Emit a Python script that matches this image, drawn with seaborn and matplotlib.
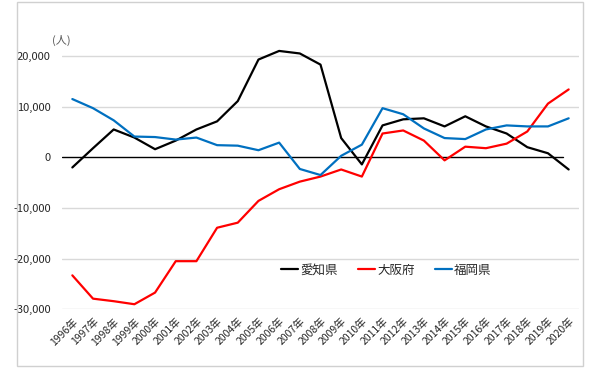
import pandas as pd
import matplotlib
matplotlib.use("Agg")
import matplotlib.pyplot as plt
import seaborn as sns
from matplotlib.patches import Rectangle

years = [f"{y}年" for y in range(1996, 2021)]
aichi = [-2000, 1800, 5500, 3900, 1600, 3300, 5500, 7100, 11100, 19300, 21000, 20500,
         18300, 3800, -1400, 6300, 7500, 7700, 6100, 8100, 6100, 4700, 2000, 800, -2400]
osaka = [-23300, -27900, -28400, -29000, -26700, -20500, -20500, -13900, -12900, -8600,
         -6300, -4800, -3800, -2400, -3800, 4700, 5300, 3300, -600, 2100, 1800, 2700,
         5100, 10600, 13400]
fukuoka = [11500, 9700, 7300, 4100, 4000, 3500, 3900, 2400, 2300, 1400, 2900, -2300,
           -3500, 300, 2500, 9700, 8500, 5700, 3800, 3600, 5500, 6300, 6100, 6100, 7700]
names = ["愛知県", "大阪府", "福岡県"]
colors = ["#000000", "#ff0000", "#0070c0"]

df = pd.DataFrame({
    "year": years * 3,
    "value": aichi + osaka + fukuoka,
    "pref": [n for n in names for _ in years],
})

sns.set_theme(style="white")
plt.rcParams["font.family"] = ["Noto Sans CJK JP", "DejaVu Sans"]

fig = plt.figure(figsize=(6.06, 3.76), dpi=100)
ax = fig.add_axes([62 / 606, 66.7 / 376, 517 / 606, 268.5 / 376])

# outer chart frame
fig.patches.append(Rectangle((17 / 606, 10 / 376), 566 / 606, 364 / 376,
                             transform=fig.transFigure, fill=False,
                             edgecolor="#d0d0d0", linewidth=1.0))

for v in [-30000, -20000, -10000, 10000, 20000]:
    ax.axhline(v, color="#d9d9d9", linewidth=1.0, zorder=0)
ax.axhline(0, xmin=0, xmax=0.97, color="black", linewidth=1.0, zorder=1)

sns.lineplot(data=df, x="year", y="value", hue="pref", palette=colors,
             linewidth=1.6, ax=ax, sort=False)

ax.set_xlim(-0.5, len(years) - 0.5)
ax.set_ylim(-30000, 23000)
ax.set_yticks([-30000, -20000, -10000, 0, 10000, 20000])
ax.set_yticklabels([f"{v:,}" for v in [-30000, -20000, -10000, 0, 10000, 20000]])
ax.set_xticks(range(len(years)))
ax.set_xticklabels(years, rotation=45, ha="right", rotation_mode="anchor")
ax.tick_params(axis="x", labelsize=7.5, length=0, pad=5)
ax.tick_params(axis="y", labelsize=8, length=0, pad=8)
ax.set_xlabel("")
ax.set_ylabel("")
for s in ax.spines.values():
    s.set_visible(False)

ax.text(-0.02, 1.0, "(人)", transform=ax.transAxes, fontsize=8, color="#595959",
        ha="left", va="center")

ax.legend(loc="center", bbox_to_anchor=(0.627, 0.146), ncol=3, frameon=False,
          fontsize=9, handlelength=1.4, handletextpad=0.15, columnspacing=1.6)

fig.savefig("out.png", dpi=100)
